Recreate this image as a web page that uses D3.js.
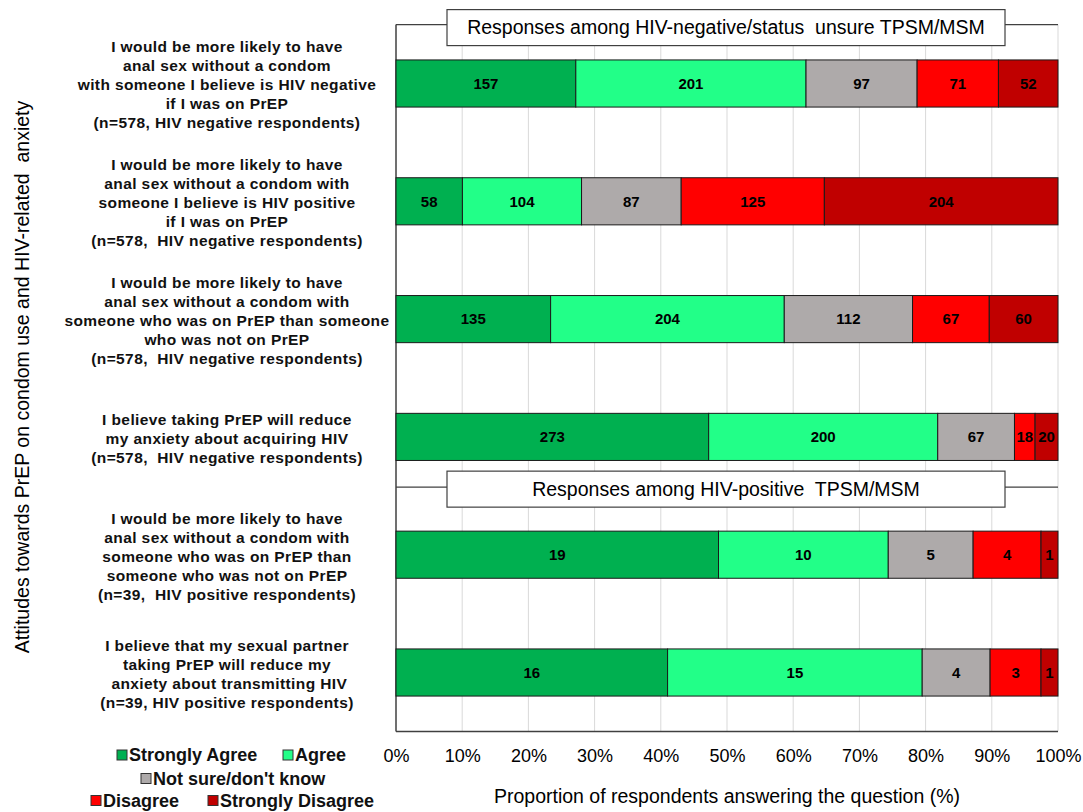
<!DOCTYPE html>
<html>
<head>
<meta charset="utf-8">
<script src="https://cdn.jsdelivr.net/npm/d3@7"></script>
<style>
  body { margin: 0; background: #fff; }
  svg { display: block; font-family: "Liberation Sans", Arial, sans-serif; }
  text { white-space: pre; }
</style>
</head>
<body>
<svg id="chart" width="1083" height="812"></svg>
<script>
// Stacked 100% bars: attitudes towards PrEP, counts per response category.

const responses = ['Strongly Agree', 'Agree', "Not sure/don't know", 'Disagree', 'Strongly Disagree'];
const responseColors = ['#00B050', '#22FF88', '#AEAAAA', '#FF0000', '#C00000'];

const questions = [
  ['I would be more likely to have', 'anal sex without a condom', 'with someone I believe is HIV negative', 'if I was on PrEP', '(n=578, HIV negative respondents)'],
  ['I would be more likely to have', 'anal sex without a condom with', 'someone I believe is HIV positive', 'if I was on PrEP', '(n=578,  HIV negative respondents)'],
  ['I would be more likely to have', 'anal sex without a condom with', 'someone who was on PrEP than someone', 'who was not on PrEP', '(n=578,  HIV negative respondents)'],
  ['I believe taking PrEP will reduce', 'my anxiety about acquiring HIV', '(n=578,  HIV negative respondents)'],
  ['I would be more likely to have', 'anal sex without a condom with', 'someone who was on PrEP than', 'someone who was not on PrEP', '(n=39,  HIV positive respondents)'],
  ['I believe that my sexual partner', 'taking PrEP will reduce my', ' anxiety about transmitting HIV', '(n=39, HIV positive respondents)'],
];

const strongAgree    = [157, 58, 135, 273, 19, 16];
const agree          = [201, 104, 204, 200, 10, 15];
const notSure        = [97, 87, 112, 67, 5, 4];
const disagree       = [71, 125, 67, 18, 4, 3];
const strongDisagree = [52, 204, 60, 20, 1, 1];

const xTicks = [0, 0.1, 0.2, 0.3, 0.4, 0.5, 0.6, 0.7, 0.8, 0.9, 1];
const groupTitles = ['Responses among HIV-negative/status  unsure TPSM/MSM', 'Responses among HIV-positive  TPSM/MSM'];
const groupTitleBefore = [0, 4];   // title sits above this question index

const yTitle = 'Attitudes towards PrEP on condom use and HIV-related  anxiety';
const xTitle = 'Proportion of respondents answering the question (%)';

// ---- layout ----
const svg = d3.select('#chart');
const plotL = 396, plotR = 1058, plotT = 24.6, plotB = 731.4;

const x = d3.scaleLinear().domain([0, 1]).range([plotL, plotR]);
const y = d3.scaleBand().domain(d3.range(questions.length)).range([plotT, plotB]).paddingInner(0.6).paddingOuter(0.3);

// Build stacked rows as proportions of row total.
const rows = questions.map((q, i) => {
  const vals = [strongAgree[i], agree[i], notSure[i], disagree[i], strongDisagree[i]];
  const total = d3.sum(vals);
  let acc = 0;
  return vals.map((v, k) => {
    const seg = { row: i, k, v, x0: acc / total, x1: (acc + v) / total };
    acc += v;
    return seg;
  });
});

// Gridlines
svg.append('g').selectAll('line').data(xTicks.slice(1)).join('line')
  .attr('x1', d => x(d)).attr('x2', d => x(d))
  .attr('y1', plotT).attr('y2', plotB)
  .attr('stroke', '#D9D9D9').attr('stroke-width', 1);

// Frame: left + bottom axis lines
svg.append('line').attr('x1', plotL).attr('x2', plotL).attr('y1', plotT).attr('y2', plotB)
  .attr('stroke', '#404040').attr('stroke-width', 1.5);
svg.append('line').attr('x1', plotL).attr('x2', plotR).attr('y1', plotB).attr('y2', plotB)
  .attr('stroke', '#404040').attr('stroke-width', 1.5);

// Bars
const segs = rows.flat();
svg.append('g').selectAll('rect').data(segs).join('rect')
  .attr('x', d => x(d.x0))
  .attr('y', d => y(d.row))
  .attr('width', d => x(d.x1) - x(d.x0))
  .attr('height', y.bandwidth())
  .attr('fill', d => responseColors[d.k])
  .attr('stroke', '#1a1a1a').attr('stroke-width', 1);

svg.append('g').selectAll('text').data(segs).join('text')
  .attr('x', d => (x(d.x0) + x(d.x1)) / 2)
  .attr('y', d => y(d.row) + y.bandwidth() / 2)
  .attr('dy', '0.35em')
  .attr('text-anchor', 'middle')
  .attr('font-size', 15).attr('font-weight', 'bold').attr('fill', '#000')
  .text(d => d.v);

// Group title boxes with separator line through them
groupTitles.forEach((t, i) => {
  const qi = groupTitleBefore[i];
  const cy = i === 0 ? plotT + 3 : y(qi) - 42;
  const lineY = i === 0 ? plotT : cy - 2;
  svg.append('line').attr('x1', plotL).attr('x2', plotR).attr('y1', lineY).attr('y2', lineY)
    .attr('stroke', '#404040').attr('stroke-width', 1.2);
  svg.append('rect').attr('x', 447).attr('y', cy - 18).attr('width', 558).attr('height', 36)
    .attr('fill', '#fff').attr('stroke', '#404040').attr('stroke-width', 1.2);
  svg.append('text').attr('x', 726).attr('y', cy).attr('dy', '0.35em')
    .attr('text-anchor', 'middle').attr('font-size', 19.5)
    .text(t);
});

// Category labels
const labelG = svg.append('g').attr('font-size', 15.5).attr('font-weight', 'bold')
  .attr('letter-spacing', 0.4).attr('fill', '#111');
questions.forEach((lines, i) => {
  const cy = y(i) + y.bandwidth() / 2 + 1.5;
  const lh = 19;
  const t = labelG.append('text').attr('text-anchor', 'middle');
  lines.forEach((ln, j) => {
    t.append('tspan').attr('x', 227)
      .attr('y', cy + (j - (lines.length - 1) / 2) * lh)
      .attr('dy', '0.35em')
      .text(ln);
  });
});

// X axis tick labels
const xAxis = d3.axisBottom(x).tickValues(xTicks).tickFormat(d3.format('.0%')).tickSize(0).tickPadding(0);
const axG = svg.append('g').attr('transform', `translate(0,${plotB + 24})`).call(xAxis);
axG.select('.domain').remove();
axG.selectAll('text').attr('font-size', 18).attr('fill', '#000')
  .attr('font-family', '"Liberation Sans", Arial, sans-serif')
  .attr('dy', '0.35em');

// Axis titles
svg.append('text').attr('x', 727).attr('y', 803).attr('text-anchor', 'middle')
  .attr('font-size', 19.5).attr('fill', '#000')
  .text(xTitle);
svg.append('text').attr('transform', 'translate(29,377) rotate(-90)')
  .attr('text-anchor', 'middle').attr('font-size', 19.5).attr('fill', '#000')
  .text(yTitle);

// Legend (three rows, centred)
const legendRows = [[0, 1], [2], [3, 4]];
const legendY = [755, 778.5, 800.5];
const legendX = [[117, 283], [141], [91, 208]];
legendRows.forEach((r, ri) => {
  r.forEach((k, j) => {
    const g = svg.append('g').attr('transform', `translate(${legendX[ri][j]},${legendY[ri]})`);
    g.append('rect').attr('x', 0).attr('y', -5).attr('width', 10).attr('height', 10)
      .attr('fill', responseColors[k]).attr('stroke', '#333').attr('stroke-width', 1);
    g.append('text').attr('x', 12).attr('dy', '0.35em')
      .attr('font-size', 18).attr('font-weight', 'bold').attr('fill', '#111')
      .text(responses[k]);
  });
});
</script>
</body>
</html>
